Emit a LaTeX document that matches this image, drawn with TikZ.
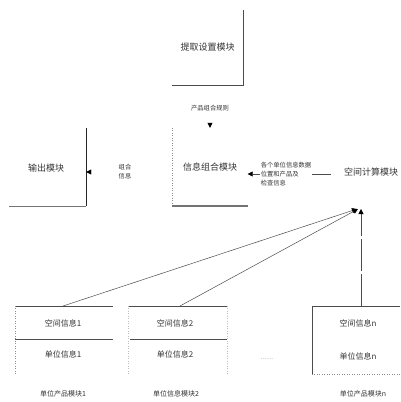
\documentclass[tikz,border=0pt]{standalone}
\usepackage{fontspec}
\newfontfamily\cjk{Noto Sans CJK SC}
\usetikzlibrary{arrows.meta}
\tikzset{
  title/.style={font=\cjk\fontsize{9}{11}\selectfont, text=black!80, inner sep=0pt},
  rowtxt/.style={font=\cjk\fontsize{8}{10}\selectfont, text=black!80, inner sep=0pt},
  sublab/.style={font=\cjk\fontsize{7}{9}\selectfont, text=black!80, inner sep=0pt},
  smalllab/.style={font=\cjk\fontsize{6.3}{9}\selectfont, text=black!80, inner sep=1pt, align=left, fill=white},
  edge/.style={draw=black!70, line width=0.6pt},
  lightedge/.style={draw=black!45, line width=0.5pt, dotted},
  boxnode/.style={inner sep=0pt},
  tip/.style={-{Triangle[width=5pt,length=5pt,black]}},
  ghost/.style={tip, draw=white},
  feed/.style={tip, draw=black!70, line width=0.5pt}
}
\begin{document}
\begin{tikzpicture}[x=1pt,y=-1pt]
\useasboundingbox (0,0) rectangle (401,402);
% top box
\node[boxnode, minimum width=71pt, minimum height=75pt] (top) at (207.5,47.5) {};
\node[title] (toptxt) at (top.center) {提取设置模块};
\draw[edge] (top.north east) -- (top.south east) -- (top.south west);
% rule label
\node[smalllab] (rule) at (210,108) {产品组合规则};
% middle box
\node[boxnode, minimum width=75pt, minimum height=78pt] (mid) at (210,167) {};
\node[title] (midtxt) at (210,167) {信息组合模块};
\draw[lightedge] (mid.north west) -- (mid.south west);
\draw[draw=black!55, line width=1.5pt] (mid.south west) -- (mid.south east);
\draw[ghost] (rule) -- (mid);
% output box
\node[boxnode, minimum width=77pt, minimum height=78pt] (out) at (47.5,167) {};
\node[title] (outtxt) at (46,168) {输出模块};
\draw[draw=black!85, line width=0.7pt] (out.north east) -- (out.south east);
\draw[draw=black!55, line width=1pt] (out.south east) -- (out.south west);
% combined info label
\node[smalllab] (comb) at (125,172) {组合\\信息};
\draw[ghost] ([yshift=-5pt]mid.west) -- ([yshift=-5pt]out.east);
% right module
\node[title] (calc) at (371,172) {空间计算模块};
\coordinate (hub) at (360,209);
\node[smalllab] (rlab) at (286,174) {各个单位信息数据\\位置和产品及\\检查信息};
\draw[feed, shorten <=13pt] ([yshift=-2pt]calc.west) -- ([yshift=-7pt]mid.east);
\node[smalllab, fill=white] at (rlab) {各个单位信息数据\\位置和产品及\\检查信息};
% bottom box 1
\node[boxnode, minimum width=98pt, minimum height=69pt] (b1) at (64,340.5) {};
\draw[edge] (b1.north west) -- (b1.north east);
\draw[edge] (15,339) -- (113,339);
\draw[lightedge] (b1.north west) -- (b1.south west);
\node[rowtxt] (b1a) at (63,323) {空间信息1};
\node[rowtxt] (b1b) at (63,354) {单位信息1};
\node[sublab] (b1l) at (63,394) {单位产品模块1};
% bottom box 2
\node[boxnode, minimum width=99pt, minimum height=69pt] (b2) at (177.5,340.5) {};
\draw[edge] (b2.north west) -- (b2.north east);
\draw[edge] (130,339) -- (227,339);
\draw[lightedge, draw=black!25] (b2.north west) -- (b2.south west);
\draw[lightedge, draw=black!25] (b2.north east) -- (b2.south east);
\node[rowtxt] (b2a) at (175,323) {空间信息2};
\node[rowtxt] (b2b) at (175,354) {单位信息2};
\node[sublab] (b2l) at (176,394) {单位信息模块2};
% dots
\node[font=\fontsize{6}{7}\selectfont, text=black!70, inner sep=0pt] (dots) at (267,359) {......};
% bottom box n
\node[boxnode, minimum width=88pt, minimum height=68pt] (bn) at (356,340) {};
\draw[edge] (bn.north east) -- (bn.north west) -- (bn.south west);
\draw[lightedge] (bn.south west) -- (bn.south east);
\node[rowtxt] (bna) at (358,323) {空间信息n};
\node[rowtxt] (bnb) at (358,356) {单位信息n};
\node[sublab] (bnl) at (363,394) {单位产品模块n};
% feeds to hub
\coordinate (b1t) at (63,306);
\coordinate (b2t) at (180,306);
\coordinate (bnt) at (361,306);
\draw[feed] (b1t) -- ([xshift=-3pt]hub);
\draw[feed] (b2t) -- ([xshift=-2pt]hub);
\draw[feed, dash pattern=on 32pt off 3pt] (bnt) -- ([xshift=1pt]hub);
\end{tikzpicture}
\end{document}
